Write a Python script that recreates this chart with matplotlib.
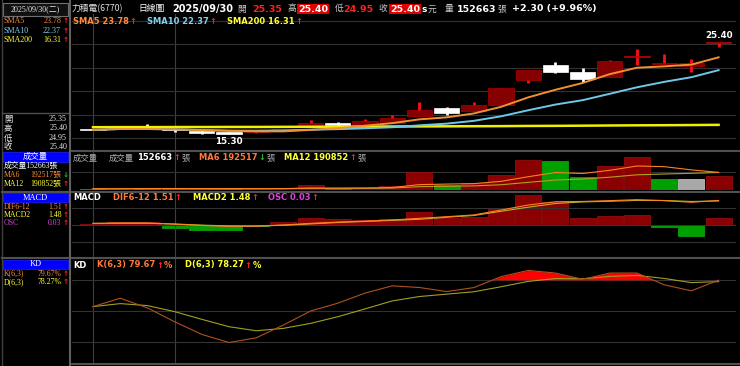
import numpy as np
import pandas as pd
import matplotlib.pyplot as plt
from matplotlib.lines import Line2D
from matplotlib.patches import Rectangle

# ---- data (24 trading days, last = 2025/09/30) ----
opens = [15.80, 15.85, 15.95, 15.80, 15.65, 15.50, 15.55, 15.70, 16.15, 16.50, 16.40, 16.55,
         17.30, 18.15, 17.80, 18.50, 21.25, 22.95, 22.15, 21.65, 23.85, 23.00, 22.85, 25.35]
highs = [15.85, 16.00, 16.40, 15.90, 15.70, 15.55, 15.70, 15.90, 16.80, 16.65, 16.95, 17.40,
         18.85, 18.25, 18.85, 20.35, 22.35, 23.25, 22.65, 23.45, 24.75, 24.15, 23.55, 25.40]
lows = [15.70, 15.80, 15.80, 15.55, 15.35, 15.30, 15.40, 15.65, 16.15, 16.10, 16.35, 16.55,
        17.30, 17.45, 17.80, 18.50, 20.90, 22.00, 21.10, 21.60, 22.95, 23.00, 22.20, 24.95]
closes = [15.75, 15.95, 15.85, 15.70, 15.40, 15.35, 15.65, 15.85, 16.50, 16.35, 16.70, 17.10,
          17.95, 17.60, 18.50, 20.35, 22.35, 22.15, 21.35, 23.40, 23.90, 23.10, 23.10, 25.40]
prev_close = 15.80
sma200 = [16.05, 16.06, 16.06, 16.07, 16.07, 16.08, 16.08, 16.09, 16.10, 16.11, 16.12, 16.13,
          16.14, 16.15, 16.16, 16.17, 16.19, 16.20, 16.22, 16.24, 16.26, 16.27, 16.29, 16.31]
volume = [14000, 12000, 22000, 16000, 15000, 10000, 12000, 18000, 50000, 16000, 25000, 42000,
          200000, 54500, 80000, 164000, 327000, 316000, 138000, 262000, 363000, 120000, 116000, 152663]
dif = [0.10, 0.12, 0.12, 0.05, -0.03, -0.08, -0.07, 0.00, 0.10, 0.18, 0.24, 0.31,
       0.41, 0.51, 0.62, 0.92, 1.23, 1.43, 1.45, 1.50, 1.56, 1.50, 1.40, 1.51]
osc = [0.004, 0.013, 0.013, -0.012, -0.022, -0.024, -0.004, 0.015, 0.033, 0.026, 0.022, 0.027,
       0.057, 0.033, 0.037, 0.075, 0.135, 0.104, 0.030, 0.040, 0.045, -0.008, -0.048, 0.030]
k_val = [54.2, 62.3, 53.0, 39.7, 27.5, 19.7, 24.2, 36.5, 50.0, 57.5, 67.2, 74.2,
         72.6, 68.7, 72.5, 83.0, 89.0, 86.5, 80.5, 86.5, 86.5, 75.2, 69.4, 79.67]
d_val = [54.2, 57.1, 55.2, 49.4, 42.0, 34.9, 31.0, 33.3, 38.1, 44.5, 52.0, 59.7,
         63.9, 66.2, 68.5, 73.3, 78.5, 81.2, 81.0, 83.3, 84.2, 81.3, 77.3, 78.27]

df = pd.DataFrame({'o': opens, 'h': highs, 'l': lows, 'c': closes, 'v': volume})
x = np.arange(len(df))
sma5 = df.c.rolling(5, min_periods=1).mean()
sma10 = df.c.rolling(10, min_periods=1).mean()
ma6 = df.v.rolling(6, min_periods=1).mean()
ma12 = df.v.rolling(12, min_periods=1).mean()
macd = np.array(dif) - np.array(osc)

W, H = 740, 366
fig = plt.figure(figsize=(7.4, 3.66), dpi=100, facecolor='black')
renderer = fig.canvas.get_renderer()

def rect(x0, y0, x1, y1):
    return [x0 / W, 1 - y1 / H, (x1 - x0) / W, (y1 - y0) / H]

SANS = ['DejaVu Sans', 'Noto Sans CJK TC']
CJK = ['Noto Sans CJK TC', 'DejaVu Sans']
SERIF = ['Liberation Serif', 'Noto Sans CJK TC']
ORG = '#ff8c3a'
ORG2 = '#ff7a3a'
BLU = '#80d0f0'
YEL = '#ffff33'
MAG = '#e040e0'
RED = '#ff2020'
GRN = '#20c020'
GREY = '#b0b0b0'
GRID = '#333333'
VLINE = '#3e3e3e'

def t(xp, yp, s, c='white', size=6.3, bold=True, fam=SANS, ha='left', **kw):
    return fig.text(xp / W, 1 - yp / H, s, color=c, fontsize=size, family=fam,
                    fontweight='bold' if bold else 'normal', ha=ha, va='center', **kw)

def chain(yy, parts, size=6.0):
    # parts: (x or None, text, colour, bold, family); None = right after the previous text
    end = 0
    for xp, s, col, bold, fam in parts:
        if xp is None:
            xp = end + 1
        txt = t(xp, yy, s, col, size, bold, fam)
        end = txt.get_window_extent(renderer=renderer).x1

def hline(x0, x1, yp, c='#555555', lw=1.2):
    fig.add_artist(Line2D([x0 / W, x1 / W], [1 - yp / H, 1 - yp / H], color=c, lw=lw))

def vline(xp, y0, y1, c='#555555', lw=1.2):
    fig.add_artist(Line2D([xp / W, xp / W], [1 - y0 / H, 1 - y1 / H], color=c, lw=lw))

ax_p = fig.add_axes(rect(72, 14, 736, 150))
ax_v = fig.add_axes(rect(72, 152, 736, 190))
ax_m = fig.add_axes(rect(72, 193, 736, 257))
ax_k = fig.add_axes(rect(72, 259, 736, 363))

for ax in (ax_p, ax_v, ax_m, ax_k):
    ax.set_facecolor('black')
    ax.set_xlim(-0.772, 23.64)
    for s in ax.spines.values():
        s.set_visible(False)
    ax.set_xticks([])
    ax.set_yticks([])
    for xv in (0, 3):
        ax.axvline(xv, color=VLINE, lw=0.8, zorder=0)

def hgrid(ax, fracs):
    for f in fracs:
        ax.plot([0, 1], [f, f], transform=ax.transAxes, color=GRID, lw=0.8, zorder=0)

# ---- price panel ----
ax_p.set_ylim(13.53, 28.57)
hgrid(ax_p, [0.088 + 0.1725 * k for k in range(6)])
for i in x:
    o, h, l, c = opens[i], highs[i], lows[i], closes[i]
    up = c >= o
    wick = '#ff1010' if up else 'white'
    ax_p.plot([i, i], [l, h], color=wick, lw=2.0, zorder=2, solid_capstyle='butt')
    body_h = max(abs(c - o), 0.12)
    if up:
        fc = '#ff1010' if abs(c - o) < 0.08 else '#850000'
        ec = '#b00000'
    else:
        fc = ec = 'white'
    ax_p.add_patch(Rectangle((i - 0.46, min(o, c)), 0.92, body_h, facecolor=fc,
                             edgecolor=ec, lw=0.5, zorder=3))
ax_p.plot(x, sma200, color='#f0f000', lw=1.8, zorder=4)
ax_p.plot(x, sma10, color='#70c8e8', lw=1.4, zorder=5)
ax_p.plot(x, sma5, color='#f09030', lw=1.4, zorder=6)
lo_i = int(np.argmin(lows))
hi_i = int(np.argmax(highs))
ax_p.text(lo_i, lows[lo_i] - 0.35, f'{lows[lo_i]:.2f}', color='white', fontsize=6.3,
          fontweight='bold', ha='center', va='top', zorder=7)
ax_p.text(hi_i, highs[hi_i] + 0.25, f'{highs[hi_i]:.2f}', color='white', fontsize=6.3,
          fontweight='bold', ha='center', va='bottom', zorder=7)

# ---- volume panel ----
ax_v.set_ylim(0, 414000)
hgrid(ax_v, [0.474])
vcol, vedge = [], []
pc = prev_close
for c in closes:
    if c > pc:
        vcol.append('#8b0000'); vedge.append('#a01010')
    elif c < pc:
        vcol.append('#00a000'); vedge.append('#10b010')
    else:
        vcol.append('#a8a8a8'); vedge.append('#d0d0d0')
    pc = c
ax_v.bar(x, volume, width=0.95, color=vcol, edgecolor=vedge, lw=0.5, zorder=2)
ax_v.plot(x, ma12, color='#b0a020', lw=0.8, zorder=3)
ax_v.plot(x, ma6, color='#ff8020', lw=0.8, zorder=4)

# ---- MACD panel ----
ax_m.set_ylim(-1.97, 1.97)
hgrid(ax_m, [0.5 - 0.2656, 0.5, 0.5 + 0.2656])
ax_o = ax_m.twinx()
ax_o.set_ylim(-0.1435, 0.1435)
ax_o.set_xlim(-0.772, 23.64)
ax_o.axis('off')
ocol = ['#8b0000' if v >= 0 else '#00a000' for v in osc]
oedge = ['#a01010' if v >= 0 else '#10b010' for v in osc]
ax_o.bar(x, osc, width=0.95, color=ocol, edgecolor=oedge, lw=0.5, zorder=2)
ax_m.set_zorder(ax_o.get_zorder() + 1)
ax_m.patch.set_visible(False)
ax_m.plot(x, macd, color='#c0b020', lw=0.8)
ax_m.plot(x, dif, color='#ff8020', lw=0.8)

# ---- KD panel ----
ax_k.set_ylim(0, 100)
for lv in (20, 50, 80):
    ax_k.axhline(lv, color=GRID, lw=0.8, zorder=0)
ax_k.fill_between(x, k_val, 80, where=np.array(k_val) > 80, interpolate=True,
                  color='#ff0000', lw=0, zorder=2)
ax_k.plot(x, d_val, color='#a0a020', lw=0.8, zorder=3)
ax_k.plot(x, k_val, color='#b05020', lw=0.8, zorder=4)

# ---- frame lines ----
hline(72, 740, 151, '#505050', 1.5)
hline(72, 740, 191.5, '#505050', 1.5)
hline(72, 740, 258, '#505050', 1.5)
hline(72, 740, 364, '#505050', 1.5)
vline(70, 0, 366, '#606060', 1.5)
vline(1.5, 0, 366, '#404040', 1.0)
hline(2, 68, 113, '#505050', 1.0)
hline(2, 68, 191.5, '#505050', 1.5)
hline(2, 68, 258, '#505050', 1.5)

# ---- left sidebar ----
fig.add_artist(Rectangle((3 / W, 1 - 16 / H), 65 / W, 13 / H, facecolor='#101010',
                         edgecolor='#707070', lw=0.8, transform=fig.transFigure))
t(35.5, 9.5, '2025/09/30(二)', '#e8e8e8', 5.8, False, SERIF, 'center')
side = [(21, 'SMA5', '23.78', ORG, RED, '↑'), (31, 'SMA10', '22.37', BLU, RED, '↑'),
        (40, 'SMA200', '16.31', YEL, RED, '↑')]
for yy, name, val, col, acol, arr in side:
    t(4, yy, name, col, 5.8, False, SERIF)
    t(61, yy, val, col, 5.8, False, SERIF, 'right')
    t(62.5, yy, arr, acol, 5.3, True)
for yy, name, val in [(119, '開', '25.35'), (128.5, '高', '25.40'), (138, '低', '24.95'),
                      (147, '收', '25.40')]:
    t(4, yy, name, '#e8e8e8', 6.0, False, CJK)
    t(67, yy, val, '#e8e8e8', 5.8, False, SERIF, 'right')
for y0, y1, lab in [(152, 162, '成交量'), (193, 202, 'MACD'), (260, 269, 'KD')]:
    fig.add_artist(Rectangle((3 / W, 1 - y1 / H), 65 / W, (y1 - y0) / H, facecolor='#0000ff',
                             edgecolor='#2020ff', lw=0.5, transform=fig.transFigure))
    t(35.5, (y0 + y1) / 2, lab, 'white', 6.0, False, SERIF, 'center')
t(4, 166, '成交量152663張', 'white', 5.6, False, SERIF)
rows = [(175, 'MA6', '192517張', ORG, GRN, '↓'), (184, 'MA12', '190852張', YEL, RED, '↑'),
        (207, 'DIF6-12', '1.51', ORG, RED, '↑'), (215, 'MACD2', '1.48', YEL, RED, '↑'),
        (223, 'OSC', '0.03', MAG, RED, '↑'), (273.5, 'K(6,3)', '79.67%', ORG, RED, '↑'),
        (282, 'D(6,3)', '78.27%', YEL, RED, '↑')]
for yy, name, val, col, acol, arr in rows:
    t(4, yy, name, col, 5.6, False, SERIF)
    t(61.5, yy, val, col, 5.6, False, SERIF, 'right')
    t(62.5, yy, arr, acol, 5.3, True)

# ---- top title row ----
t(72, 9, '力積電(6770)', '#e0e0e0', 6.3, False, CJK)
t(138, 9, '日線圖', 'white', 6.3, False, CJK)
t(172, 9, '2025/09/30', 'white', 7.0)
t(237, 9, '開', '#c8c8c8', 6.3, False, CJK)
t(252, 9, '25.35', '#ff2020', 6.8)
t(287, 9, '高', '#c8c8c8', 6.3, False, CJK)
t(298, 9, '25.40', 'white', 6.8, bbox=dict(facecolor='#e00000', edgecolor='none', pad=0.6))
t(335, 9, '低', '#c8c8c8', 6.3, False, CJK)
t(343, 9, '24.95', '#ff2020', 6.8)
t(378, 9, '收', '#c8c8c8', 6.3, False, CJK)
t(390, 9, '25.40', 'white', 6.8, bbox=dict(facecolor='#e00000', edgecolor='none', pad=0.6))
t(421, 9, 's', 'white', 6.5)
t(428, 9, '元', '#c8c8c8', 6.3, False, CJK)
t(445, 9, '量', '#c8c8c8', 6.3, False, CJK)
t(457, 9, '152663', 'white', 6.8)
t(497, 9, '張', '#c8c8c8', 6.3, False, CJK)
t(512, 9, '+2.30 (+9.96%)', 'white', 6.8)

# ---- panel headers ----
chain(22, [(73, 'SMA5 23.78', ORG, True, SANS), (None, '↑', RED, True, SANS),
           (147, 'SMA10 22.37', BLU, True, SANS), (None, '↑', RED, True, SANS),
           (227, 'SMA200 16.31', YEL, True, SANS), (None, '↑', RED, True, SANS)])
chain(158, [(73, '成交量', GREY, False, CJK), (109, '成交量', GREY, False, CJK),
            (137, '152663', 'white', True, SANS), (None, '↑', RED, True, SANS),
            (None, '張', GREY, False, CJK), (199, 'MA6 192517', ORG2, True, SANS),
            (None, '↓', GRN, True, SANS), (None, '張', GREY, False, CJK),
            (284, 'MA12 190852', YEL, True, SANS), (None, '↑', RED, True, SANS),
            (None, '張', GREY, False, CJK)])
chain(197.5, [(73, 'MACD', 'white', True, SANS), (113, 'DIF6-12 1.51', ORG2, True, SANS),
              (None, '↑', RED, True, SANS), (193, 'MACD2 1.48', YEL, True, SANS),
              (None, '↑', RED, True, SANS), (268, 'OSC 0.03', MAG, True, SANS),
              (None, '↑', RED, True, SANS)])
chain(265, [(73, 'KD', 'white', True, SANS), (97, 'K(6,3) 79.67', ORG2, True, SANS),
            (None, '↑', RED, True, SANS), (None, '%', ORG2, True, SANS),
            (185, 'D(6,3) 78.27', YEL, True, SANS), (None, '↑', RED, True, SANS),
            (None, '%', YEL, True, SANS)])

fig.savefig('out.png', dpi=100, facecolor='black')
